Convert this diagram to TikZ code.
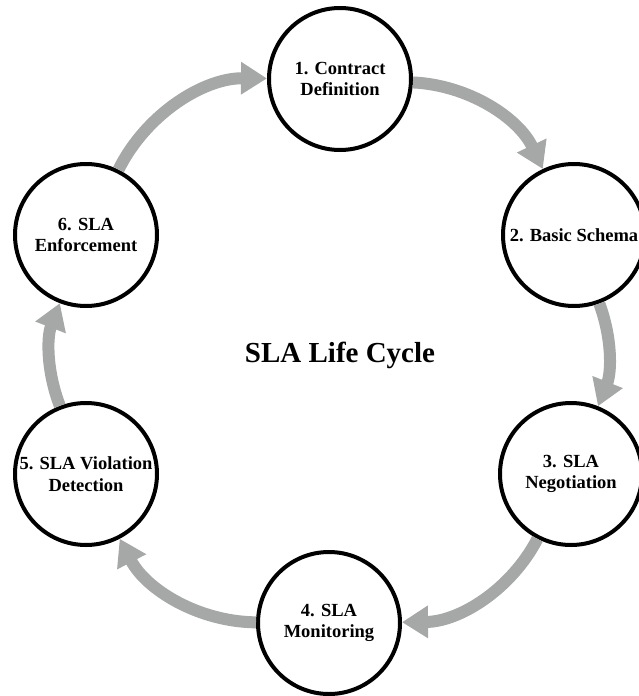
\documentclass[tikz,border=0pt]{standalone}
\usepackage{fontspec}
\setmainfont{Liberation Serif}
\usetikzlibrary{arrows.meta}
\definecolor{cyclegray}{RGB}{165,168,166}
\begin{document}
\begin{tikzpicture}[x=1pt,y=-1pt,
  stage/.style={circle, draw=black, line width=4pt, fill=white,
    minimum size=142pt, inner sep=0pt, align=center,
    font=\bfseries\fontsize{18.5}{21.5}\selectfont},
  flow/.style={draw=cyclegray, line width=12pt,
    -{Triangle[width=31pt,length=26pt]}, looseness=0.92}]
\useasboundingbox (0,0) rectangle (639,696);
\clip (0,0) rectangle (639,696);

% stages of the cycle
\node[stage] (s1) at (340,79)  {1. Contract\\Definition};
\node[stage] (s2) at (574,235) {2. Basic Schema};
\node[stage] (s3) at (571,474) {3. SLA\\Negotiation};
\node[stage] (s4) at (329,623) {4. SLA\\Monitoring};
\node[stage] (s5) at (86,474)  {5. SLA Violation\\Detection};
\node[stage] (s6) at (86,235)  {6. SLA\\Enforcement};

% title in the middle
\node[font=\bfseries\fontsize{29}{33}\selectfont] (title) at (340,355) {SLA Life Cycle};

% clockwise arrows between the stages
\draw[flow] (s1) to[bend left=31] (s2);
\draw[flow] (s2) to[bend left=21] (s3);
\draw[flow] (s3) to[bend left=31] (s4);
\draw[flow] (s4) to[bend left=31] (s5);
\draw[flow] (s5) to[bend left=21] (s6);
\draw[flow] (s6) to[bend left=32] (s1);
\end{tikzpicture}
\end{document}
